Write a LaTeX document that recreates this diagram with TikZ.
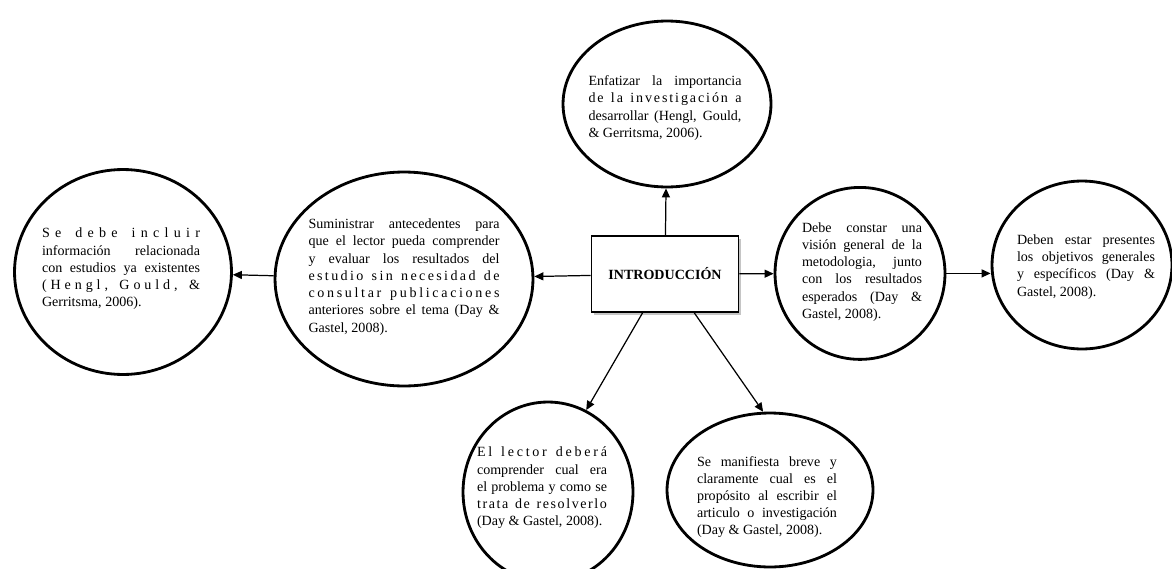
\documentclass[tikz,border=0pt]{standalone}
\usepackage{fontspec}
\setmainfont{Liberation Serif}
\usetikzlibrary{shapes.geometric,arrows.meta,shadows}

% letras repartidas a lo ancho de la linea
\ExplSyntaxOn
\seq_new:N \l_spr_words_seq
\seq_new:N \l_spr_chars_seq
\seq_new:N \l_spr_out_seq
\NewDocumentCommand \spreadline { m }
  {
    \seq_set_split:Nnn \l_spr_words_seq { ~ } { #1 }
    \seq_clear:N \l_spr_out_seq
    \seq_map_inline:Nn \l_spr_words_seq
      {
        \seq_clear:N \l_spr_chars_seq
        \tl_map_inline:nn { ##1 } { \seq_put_right:Nn \l_spr_chars_seq { ####1 } }
        \seq_put_right:Nx \l_spr_out_seq { \seq_use:Nn \l_spr_chars_seq { \hskip 0pt plus 1fil \relax } }
      }
    \seq_use:Nn \l_spr_out_seq { \c_space_tl \hskip 0pt plus 2fil \relax }
  }
\ExplSyntaxOff

\tikzset{
  bubble/.style = {ellipse, draw=black, line width=1.6pt, inner sep=0pt, fill=white},
  bubbletext/.style = {align=justify, inner sep=0pt, font={\fontsize{8}{9.8}\selectfont\tolerance=9999}},
  titlebox/.style = {rectangle, draw=black, line width=1.1pt, fill=white, minimum width=2.94cm, minimum height=1.52cm,
    font=\fontsize{8}{9.8}\selectfont\bfseries, drop shadow={shadow xshift=1.5pt, shadow yshift=-1.5pt, fill=black!45}},
  link/.style = {-{Triangle[length=1.8mm,width=1.6mm]}, line width=0.7pt}
}

\begin{document}
\begin{tikzpicture}[x=0.02cm, y=-0.02cm]
  \useasboundingbox (0,0) rectangle (1172,568);

  % centro
  \node [titlebox] (intro) at (665,274) {INTRODUCCIÓN};

  % burbujas
  \node [bubble, minimum width=4.34cm, minimum height=4.1cm] (exist) at (123,272) {};
  \node [bubble, minimum width=5.16cm, minimum height=4.28cm] (antec) at (404,279) {};
  \node [bubble, minimum width=4.16cm, minimum height=3.32cm] (enfat) at (667,104) {};
  \node [bubble, minimum width=3.4cm, minimum height=3.44cm] (metod) at (860,273.4) {};
  \node [bubble, minimum width=3.6cm, minimum height=3.36cm] (objet) at (1082,265) {};
  \node [bubble, minimum width=3.4cm, minimum height=3.6cm] (lector) at (548,492) {};
  \node [bubble, minimum width=4.12cm, minimum height=3.08cm] (propo) at (770,490) {};

  % textos
  \node [bubbletext, text width=3.16cm] (existtxt) at (121,269) {\spreadline{Se debe incluir}\linebreak
    información relacionada\linebreak
    con estudios ya existentes\linebreak
    \spreadline{(Hengl, Gould, \&}\linebreak
    Gerritsma, 2006).};
  \node [bubbletext, text width=3.82cm] (antectxt) at (404,277) {Suministrar antecedentes para\linebreak
    que el lector pueda comprender\linebreak
    y evaluar los resultados del\linebreak
    \spreadline{estudio sin necesidad de}\linebreak
    \spreadline{consultar publicaciones}\linebreak
    anteriores sobre el tema (Day \&\linebreak
    Gastel, 2008).};
  \node [bubbletext, text width=3.06cm] (enfattxt) at (665,108) {Enfatizar la importancia\linebreak
    \spreadline{de la investigación a}\linebreak
    desarrollar (Hengl, Gould,\linebreak
    \& Gerritsma, 2006).};
  \node [bubbletext, text width=2.4cm] (metodtxt) at (862,272) {Debe constar una\linebreak
    visión general de la\linebreak
    metodologia, junto\linebreak
    con los resultados\linebreak
    esperados (Day \&\linebreak
    Gastel, 2008).};
  \node [bubbletext, text width=2.76cm] (objettxt) at (1086,267) {Deben estar presentes\linebreak
    los objetivos generales\linebreak
    y específicos (Day \&\linebreak
    Gastel, 2008).};
  \node [bubbletext, text width=2.6cm] (lectortxt) at (542,488) {\spreadline{El lector deberá}\linebreak
    comprender cual era\linebreak
    el problema y como se\linebreak
    \spreadline{trata de resolverlo}\linebreak
    (Day \& Gastel, 2008).};
  \node [bubbletext, text width=2.8cm] (propotxt) at (767,497) {Se manifiesta breve y\linebreak
    claramente cual es el\linebreak
    propósito al escribir el\linebreak
    articulo o investigación\linebreak
    (Day \& Gastel, 2008).};

  % flechas
  \draw [link] (intro) -- (antec);
  \draw [link] (antec) -- (exist);
  \draw [link] (intro) -- (enfat);
  \draw [link] (intro) -- (metod);
  \draw [link] (metod.east) -- (metod.east -| objet.west);
  \draw [link] (intro.-120) -- (lector.65);
  \draw [link] (intro.-53) -- (propo.95);
\end{tikzpicture}
\end{document}
